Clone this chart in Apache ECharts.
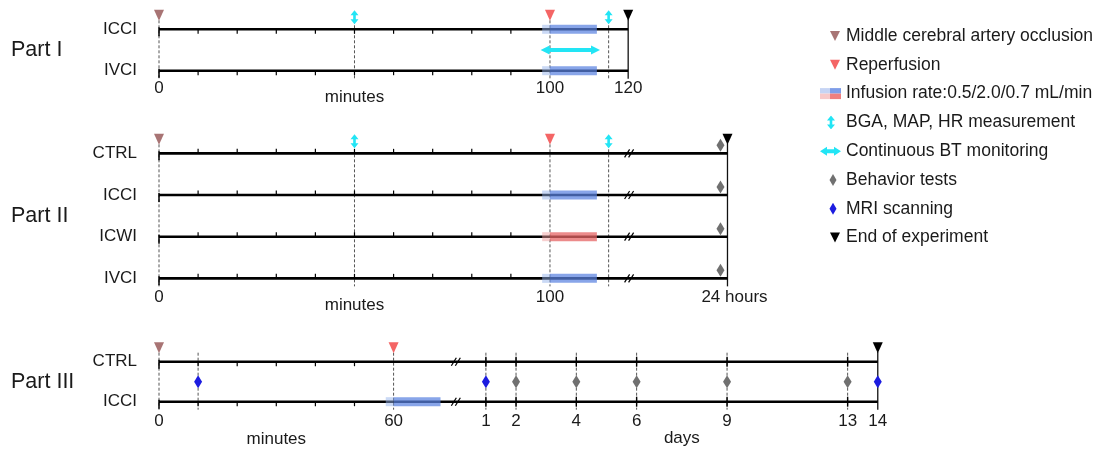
<!DOCTYPE html>
<html>
<head>
<meta charset="utf-8">
<title>Experimental timeline</title>
<script src="https://cdn.jsdelivr.net/npm/echarts@6/dist/echarts.min.js"></script>
<style>
  html, body { margin: 0; background: #fff; }
  #chart { width: 1101px; height: 451px; }
</style>
</head>
<body>
<div id="chart"></div>
<script>
const FONT = '"Liberation Sans", Arial, sans-serif';
const INK = '#1a1a1a';

// ---- Part I : minutes after MCAO ----
const p1Rows = ['ICCI', 'IVCI'];
const p1Ticks = [10, 20, 30, 40, 50, 60, 70, 80, 90];
const p1Occlusion = [0];
const p1Reperfusion = [100];
const p1Bga = [50, 115];
const p1End = [120];
const p1Guides = [0, 50, 100, 115];
const p1Infusion = [[0, 98, 100, 112, 'blue'], [1, 98, 100, 112, 'blue']]; // row, pre, start, stop
const p1Monitoring = [[97.6, 112.8]];
const p1Labels = [[0, '0'], [100, '100'], [120, '120']];

// ---- Part II : minutes, then 24 hours ----
const p2Rows = ['CTRL', 'ICCI', 'ICWI', 'IVCI'];
const p2Ticks = [10, 20, 30, 40, 50, 60, 70, 80, 90];
const p2Occlusion = [0];
const p2Reperfusion = [100];
const p2Bga = [50, 115];
const p2End = [1440];
const p2Behavior = [[1440, 0], [1440, 1], [1440, 2], [1440, 3]];
const p2Guides = [0, 50, 100, 115];
const p2Infusion = [[1, 98, 100, 112, 'blue'], [2, 98, 100, 112, 'red'], [3, 98, 100, 112, 'blue']];
const p2Labels = [[0, '0'], [100, '100'], [1440, '24 hours']];

// ---- Part III : minutes, then days ----
const p3Rows = ['CTRL', 'ICCI'];
const p3Ticks = [10, 20, 30, 40, 50];
const p3DayTicks = [1, 2, 4, 6, 9, 13];
const p3Occlusion = [0];
const p3Reperfusion = [60];
const p3EndDay = [14];
const p3MriMinutes = [10];
const p3MriDays = [1, 14];
const p3BehaviorDays = [2, 4, 6, 9, 13];
const p3Guides = [0, 10, 60];
const p3Infusion = [[1, 58, 60, 72, 'blue']];
const p3Labels = [[0, '0'], [60, '60'], [1, '1', 'd'], [2, '2', 'd'], [4, '4', 'd'], [6, '6', 'd'],
  [9, '9', 'd'], [13, '13', 'd'], [14, '14', 'd']];

const partNames = ['Part I', 'Part II', 'Part III'];
const legendNames = [
  'Middle cerebral artery occlusion', 'Reperfusion', 'Infusion rate:0.5/2.0/0.7 mL/min',
  'BGA, MAP, HR measurement', 'Continuous BT monitoring', 'Behavior tests', 'MRI scanning', 'End of experiment'
];

const C = {
  occl: '#a87474', reperf: '#f46565', cyan: '#22e5f5', behav: '#707070', mri: '#1c1ce0', end: '#000',
  blue: ['rgba(150,180,235,0.5)', 'rgba(90,130,225,0.72)'],
  red: ['rgba(240,160,160,0.5)', 'rgba(230,100,100,0.75)']
};

// broken time scales -> axis units (1 unit = 1 minute before the break)
const day = d => d * 1440;
const p2X = t => (t <= 120 ? t : 120.6 + (t - 120) / 1320 * 24.8);
const p3X = t => (t <= 75 ? t : 75.9 + t / 1440 * 7.71);

const GRIDS = [
  { top: 8.6, height: 82.8 },
  { top: 132.5, height: 166.7 },
  { top: 341.7, height: 80 }
];

const parts = [
  {
    rows: p1Rows, toX: t => t, lineEnd: 120, ticks: p1Ticks, tickDir: 1, dayTicks: [],
    guides: p1Guides, endGuide: 120, breaks: [],
    occl: p1Occlusion, reperf: p1Reperfusion, bga: p1Bga, end: p1End,
    behavior: [], behaviorOffset: [0, 0], mri: [],
    infusion: p1Infusion, monitoring: p1Monitoring,
    labels: p1Labels.map(l => [l[0], l[1], 0]), labelDy: 17.5,
    names: [['minutes', 50, 26.5]]
  },
  {
    rows: p2Rows, toX: p2X, lineEnd: 1440, ticks: p2Ticks, tickDir: -1, dayTicks: [],
    guides: p2Guides, endGuide: 1440, breaks: [121],
    occl: p2Occlusion, reperf: p2Reperfusion, bga: p2Bga, end: p2End,
    behavior: p2Behavior, behaviorOffset: [-7, -8], mri: [],
    infusion: p2Infusion, monitoring: [],
    labels: p2Labels.map(l => [l[0], l[1], l[0] === 1440 ? 7 : 0]), labelDy: 18.7,
    names: [['minutes', 50, 27]]
  },
  {
    rows: p3Rows, toX: p3X, lineEnd: day(14), ticks: p3Ticks, tickDir: 1, dayTicks: p3DayTicks.map(day),
    guides: p3Guides.concat(p3DayTicks.map(day)), endGuide: day(14), breaks: [76],
    occl: p3Occlusion, reperf: p3Reperfusion, bga: [], end: p3EndDay.map(day),
    behavior: p3BehaviorDays.map(d => [day(d), 0.5]), behaviorOffset: [0, 0],
    mri: p3MriMinutes.map(t => [t, 0.5]).concat(p3MriDays.map(d => [day(d), 0.5])),
    infusion: p3Infusion, monitoring: [],
    labels: p3Labels.map(l => [l[2] ? day(l[0]) : l[0], l[1], 0]), labelDy: 19.3,
    names: [['minutes', 30, 38], ['days', day(7.5), 36.5]]
  }
];

const triangle = 'path://M0,0L10,0L5,11Z';
const vArrow = 'path://M4,0L8,5L5.3,5L5.3,9L8,9L4,14L0,9L2.7,9L2.7,5L0,5Z';

function seg(x1, y1, x2, y2, style) {
  return { type: 'line', shape: { x1, y1, x2, y2 }, style };
}

const series = [];
parts.forEach((p, k) => {
  const ax = { xAxisIndex: k, yAxisIndex: k, silent: true };
  const last = p.rows.length - 1;

  // dashed guides across the rows
  series.push({
    type: 'custom', ...ax, z: 1,
    data: p.guides.map(t => [p.toX(t), 0]),
    renderItem: (params, api) => {
      const a = api.coord([api.value(0), 0]);
      const b = api.coord([api.value(0), last]);
      return seg(a[0], a[1] - 9, a[0], b[1] + 8, { stroke: '#555', lineWidth: 1, lineDash: [3, 2] });
    }
  });
  // solid end-of-experiment guide
  series.push({
    type: 'custom', ...ax, z: 2,
    data: [[p.toX(p.endGuide), 0]],
    renderItem: (params, api) => {
      const a = api.coord([api.value(0), 0]);
      const b = api.coord([api.value(0), last]);
      return seg(a[0], a[1] - 10, a[0], b[1] + 8, { stroke: '#111', lineWidth: 1.3 });
    }
  });
  // timelines
  series.push({
    type: 'custom', ...ax, z: 2,
    data: p.rows.map((r, i) => [0, p.toX(p.lineEnd), i]),
    renderItem: (params, api) => {
      const a = api.coord([api.value(0), api.value(2)]);
      const b = api.coord([api.value(1), api.value(2)]);
      return {
        type: 'group', children: [
          seg(a[0], a[1], b[0], b[1], { stroke: '#000', lineWidth: 2.6 }),
          seg(a[0], a[1] - 2, a[0], a[1] + 7, { stroke: '#000', lineWidth: 1.5 })
        ]
      };
    }
  });
  // minute ticks and day ticks
  const tickData = [];
  p.rows.forEach((r, i) => {
    p.ticks.forEach(t => tickData.push([p.toX(t), i, 0]));
    p.dayTicks.forEach(t => tickData.push([p.toX(t), i, 1]));
  });
  series.push({
    type: 'custom', ...ax, z: 2,
    data: tickData,
    renderItem: (params, api) => {
      const a = api.coord([api.value(0), api.value(1)]);
      if (api.value(2) === 1) {
        return seg(a[0], a[1] - 5, a[0], a[1] + 5, { stroke: '#000', lineWidth: 1.4 });
      }
      return seg(a[0], a[1], a[0], a[1] + 4.5 * p.tickDir, { stroke: '#000', lineWidth: 1.2 });
    }
  });
  // axis breaks
  const breakData = [];
  p.rows.forEach((r, i) => p.breaks.forEach(t => breakData.push([p.toX(t), i])));
  series.push({
    type: 'custom', ...ax, z: 3,
    data: breakData,
    renderItem: (params, api) => {
      const a = api.coord([api.value(0), api.value(1)]);
      const st = { stroke: '#000', lineWidth: 1.2 };
      return {
        type: 'group', children: [
          seg(a[0] - 6, a[1] + 4, a[0] - 1, a[1] - 4, st),
          seg(a[0] - 2, a[1] + 4, a[0] + 3, a[1] - 4, st)
        ]
      };
    }
  });
  // infusion bars
  series.push({
    type: 'custom', ...ax, z: 3, name: legendNames[2], itemStyle: { color: C.blue[1] },
    data: p.infusion.map(f => [p.toX(f[1]), p.toX(f[2]), p.toX(f[3]), f[0], f[4] === 'red' ? 1 : 0]),
    renderItem: (params, api) => {
      const row = api.value(3);
      const y = api.coord([0, row])[1];
      const x0 = api.coord([api.value(0), row])[0];
      const x1 = api.coord([api.value(1), row])[0];
      const x2 = api.coord([api.value(2), row])[0];
      const col = api.value(4) === 1 ? C.red : C.blue;
      return {
        type: 'group', children: [
          { type: 'rect', shape: { x: x0, y: y - 4.5, width: x1 - x0, height: 9 }, style: { fill: col[0] } },
          { type: 'rect', shape: { x: x1, y: y - 4.5, width: x2 - x1, height: 9 }, style: { fill: col[1] } }
        ]
      };
    }
  });
  // continuous BT monitoring arrow
  if (p.monitoring.length) {
    series.push({
      type: 'custom', ...ax, z: 3, name: legendNames[4], itemStyle: { color: C.cyan },
      data: p.monitoring.map(m => [p.toX(m[0]), p.toX(m[1])]),
      renderItem: (params, api) => {
        const a = api.coord([api.value(0), 0.5]);
        const b = api.coord([api.value(1), 0.5]);
        const y = a[1], h = 9, s = 2;
        return {
          type: 'polygon',
          shape: {
            points: [[a[0], y], [a[0] + h, y - 4.5], [a[0] + h, y - s], [b[0] - h, y - s], [b[0] - h, y - 4.5],
              [b[0], y], [b[0] - h, y + 4.5], [b[0] - h, y + s], [a[0] + h, y + s], [a[0] + h, y + 4.5]]
          },
          style: { fill: C.cyan }
        };
      }
    });
  }
  // event markers
  const mark = (name, data, symbol, size, offset, color) => series.push({
    type: 'scatter', name, ...ax, z: 4, data, symbol, symbolSize: size, symbolOffset: offset,
    itemStyle: { color, opacity: 1 }
  });
  mark(legendNames[0], p.occl.map(t => [p.toX(t), 0]), triangle, [10, 11], [0, -14], C.occl);
  mark(legendNames[1], p.reperf.map(t => [p.toX(t), 0]), triangle, [10, 11], [0, -14], C.reperf);
  if (p.bga.length) mark(legendNames[3], p.bga.map(t => [p.toX(t), 0]), vArrow, [8, 14], [0, -12], C.cyan);
  if (p.behavior.length) {
    mark(legendNames[5], p.behavior.map(b => [p.toX(b[0]), b[1]]), 'diamond', [8, 13], p.behaviorOffset, C.behav);
  }
  if (p.mri.length) mark(legendNames[6], p.mri.map(b => [p.toX(b[0]), b[1]]), 'diamond', [8, 13], [0, 0], C.mri);
  mark(legendNames[7], p.end.map(t => [p.toX(t), 0]), triangle, [10, 11], [0, -14], C.end);

  // tick labels and unit names
  const texts = p.labels.map(l => [p.toX(l[0]), l[1], l[2], p.labelDy])
    .concat(p.names.map(n => [p.toX(n[1]), n[0], 0, n[2]]));
  series.push({
    type: 'custom', ...ax, z: 5,
    data: texts.map(t => [t[0], last]),
    renderItem: (params, api) => {
      const t = texts[params.dataIndex];
      const a = api.coord([t[0], last]);
      return {
        type: 'text', x: a[0] + t[2], y: a[1] + t[3],
        style: { text: t[1], fontSize: 17, fontFamily: FONT, fill: INK, align: 'center', verticalAlign: 'middle' }
      };
    }
  });
});

// legend icons drawn as small SVGs (21 x 14)
const svg = body => 'image://data:image/svg+xml;charset=utf-8,' + encodeURIComponent(
  '<svg xmlns="http://www.w3.org/2000/svg" width="21" height="14" viewBox="0 0 21 14">' + body + '</svg>');
const triIcon = c => svg(`<polygon points="10,2 20,2 15,12" fill="${c}"/>`);
const diaIcon = c => svg(`<polygon points="13,1 16.5,7 13,13 9.5,7" fill="${c}"/>`);
const legendIcons = [
  triIcon(C.occl),
  triIcon(C.reperf),
  svg('<rect x="0" y="1.5" width="10" height="5.5" fill="#c6d4f4"/><rect x="10" y="1.5" width="11" height="5.5" fill="#7e9de8"/>' +
      '<rect x="0" y="7" width="10" height="5.5" fill="#f7c9c9"/><rect x="10" y="7" width="11" height="5.5" fill="#ee7f7f"/>'),
  svg(`<polygon points="11,0 15,5 12.3,5 12.3,9 15,9 11,14 7,9 9.7,9 9.7,5 7,5" fill="${C.cyan}"/>`),
  svg(`<polygon points="0,7 7,2.5 7,5 14,5 14,2.5 21,7 14,11.5 14,9 7,9 7,11.5" fill="${C.cyan}"/>`),
  diaIcon(C.behav),
  diaIcon(C.mri),
  triIcon(C.end)
];

const option = {
  animation: false,
  textStyle: { fontFamily: FONT },
  grid: GRIDS.map(g => ({ left: 159, right: 222.6, top: g.top, height: g.height })),
  xAxis: GRIDS.map((g, k) => ({ gridIndex: k, type: 'value', min: 0, max: 184, show: false })),
  yAxis: parts.map((p, k) => ({
    gridIndex: k, type: 'value', inverse: true, min: -0.5, max: p.rows.length - 0.5,
    axisLine: { show: false }, axisTick: { show: false }, splitLine: { show: false },
    axisLabel: {
      customValues: p.rows.map((r, i) => i),
      formatter: v => (Number.isInteger(v) ? p.rows[v] : ''),
      margin: 22, fontSize: 17, color: INK, fontFamily: FONT
    }
  })),
  legend: {
    orient: 'vertical', left: 815, top: 21, itemWidth: 21, itemHeight: 14, itemGap: 8.8,
    selectedMode: false,
    textStyle: { fontSize: 17.5, fontFamily: FONT, color: INK, lineHeight: 20 },
    data: legendNames.map((n, i) => ({ name: n, icon: legendIcons[i] }))
  },
  graphic: partNames.map((n, k) => ({
    type: 'text', x: 11, y: GRIDS[k].top + GRIDS[k].height / 2,
    style: { text: n, fontSize: 21.5, fontFamily: FONT, fill: INK, verticalAlign: 'middle' }
  })),
  series
};

const chart = echarts.init(document.getElementById('chart'));
chart.setOption(option);
</script>
</body>
</html>
